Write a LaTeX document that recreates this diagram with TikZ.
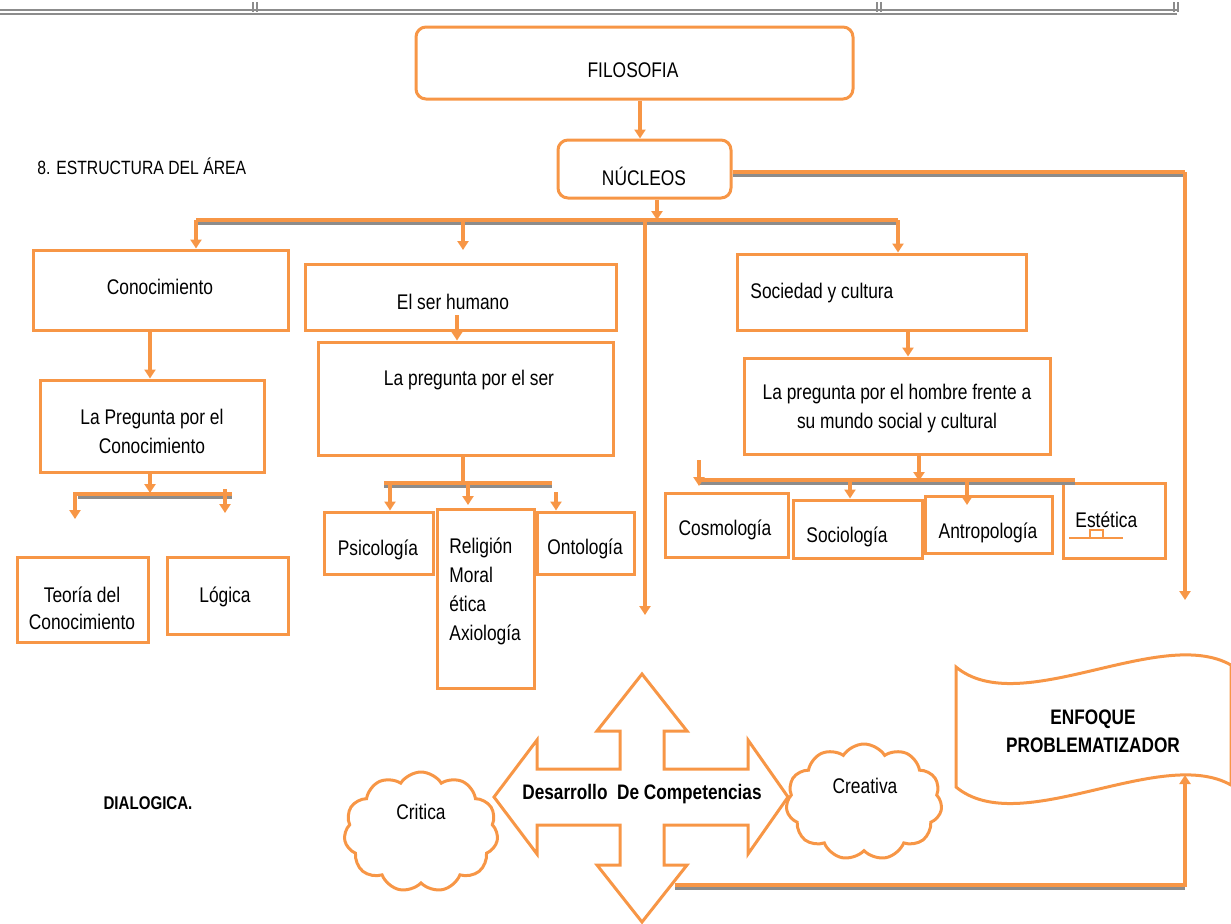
\documentclass[tikz,border=0pt]{standalone}
\usepackage{fontspec}
\setmainfont{Liberation Sans}[FakeStretch=0.82]
\usetikzlibrary{arrows.meta,shapes.symbols,fit}
\definecolor{naranja}{HTML}{F79646}
\definecolor{sombra}{HTML}{8C8C8C}
\begin{document}
\begin{tikzpicture}[x=0.5pt,y=-0.5pt,
    caja/.style={draw=naranja, line width=1.5pt, inner sep=0pt},
    redonda/.style={caja, rounded corners=5pt},
    txt/.style={font=\fontsize{10.6}{14.5}\selectfont, align=center, inner sep=0pt},
    linea/.style={draw=naranja, line width=1.8pt},
    flecha/.style={linea, -{Triangle[width=5.5pt,length=4.5pt]}},
    gris/.style={draw=sombra, line width=1.5pt},
    nube/.style={cloud, cloud puffs=11, cloud puff arc=115, draw=naranja, line width=1.5pt, inner sep=0pt}]
  \useasboundingbox (0,0) rectangle (1231,923);

  % borde de la tabla
  \draw[sombra, line width=0.6pt] (0,10) -- (1177,10) (0,14) -- (1177,14);
  \foreach \t in {253,257,877,881,1174,1178}
    \draw[sombra, line width=0.6pt] (\t,2) -- (\t,12);

  \node[txt, anchor=west, font=\fontsize{9.6}{12}\selectfont] (titulo) at (37,166) {8. ESTRUCTURA DEL ÁREA};
  \node[txt, font=\bfseries\fontsize{9.2}{12}\selectfont] (dialog) at (148,803) {DIALOGICA.};

  % cajas
  \node[redonda, fit={(416,27) (853,99)}] (filo) {};
  \node[redonda, fit={(558,140) (731,198)}] (nucl) {};
  \node[caja, fit={(33,250) (288,330)}] (conoc) {};
  \node[caja, fit={(40,380) (264,472)}] (pregc) {};
  \node[caja, fit={(17,557) (148,642)}] (teoria) {};
  \node[caja, fit={(167,557) (288,634)}] (logica) {};
  \node[caja, fit={(305,264) (616,330)}] (serh) {};
  \node[caja, fit={(318,342) (613,455)}] (pregser) {};
  \node[caja, fit={(324,512) (433,574)}] (psico) {};
  \node[caja, fit={(437,509) (534,688)}] (relig) {};
  \node[caja, fit={(537,512) (634,574)}] (onto) {};
  \node[caja, fit={(737,254) (1026,330)}] (socied) {};
  \node[caja, fit={(744,358) (1050,454)}] (preghom) {};
  \node[caja, fit={(665,493) (788,557)}] (cosmo) {};
  \node[caja, fit={(793,500) (922,558)}] (socio) {};
  \node[caja, fit={(925,496) (1052,553)}] (antro) {};
  \node[caja, fit={(1063,483) (1165,558)}] (estet) {};
  \draw[naranja, line width=1pt] (1069,538) -- (1123,538) (1090,530) rectangle (1103,538);

  \node[txt] (filo-t) at (633,70) {FILOSOFIA};
  \node[txt] (nucl-t) at (644,176) {NÚCLEOS};
  \node[txt] (conoc-t) at (160,287) {Conocimiento};
  \node[txt] (pregc-t) at (152,431) {La Pregunta por el\\Conocimiento};
  \node[txt, font=\fontsize{10.6}{13.5}\selectfont] (teoria-t) at (82,608) {Teoría del\\Conocimiento};
  \node[txt] (logica-t) at (225,597) {Lógica};
  \node[txt] (serh-t) at (453,302) {El ser humano};
  \node[txt] (pregser-t) at (469,380) {La pregunta por el ser};
  \node[txt] (psico-t) at (378,550) {Psicología};
  \node[txt, align=left, anchor=north west] (relig-t) at (449,537) {Religión\\Moral\\ética\\Axiología};
  \node[txt] (onto-t) at (585,549) {Ontología};
  \node[txt, anchor=west] (socied-t) at (750,293) {Sociedad y cultura};
  \node[txt] (preghom-t) at (897,409) {La pregunta por el hombre frente a\\su mundo social y cultural};
  \node[txt] (cosmo-t) at (725,530) {Cosmología};
  \node[txt] (socio-t) at (847,537) {Sociología};
  \node[txt] (antro-t) at (988,533) {Antropología};
  \node[txt, anchor=west] (estet-t) at (1075,520) {Estética};

  % conexiones
  \coordinate (esq) at (1185,172);
  \coordinate (finder) at (1185,600);
  \coordinate (b1) at (657,220);
  \coordinate (fincen) at (645,615);
  \coordinate (finser) at (463,250);
  \draw[flecha] (filo.south -| 640,0) -- (nucl.north -| 640,0);
  \draw[gris] (nucl.east |- 0,175.5) -- (1183,175.5);
  \draw[linea] (nucl.east |- 0,172) -- (esq);
  \draw[flecha] (esq) -- (finder);
  \draw[flecha] (nucl.south -| b1) -- (b1);
  \draw[gris] (198,223.5) -- (898,223.5);
  \draw[linea] (196,220) -- (898,220);
  \draw[flecha] (196,220) -- (conoc.north -| 196,0);
  \draw[flecha] (463,220) -- (finser);
  \draw[flecha] (898,220) -- (socied.north -| 898,0);
  \draw[flecha] (645,220) -- (fincen);

  \draw[flecha] (conoc.south -| 150,0) -- (pregc.north -| 150,0);
  \draw[flecha] (pregc.south -| 150,0) -- (150,493);
  \draw[gris] (78,497.5) -- (232,497.5);
  \draw[flecha] (232,494) -- (75,494) -- (75,519);
  \draw[flecha] (225,489) -- (225,513);

  \draw[flecha] (457,315) -- (pregser.north -| 457,0);
  \draw[linea] (pregser.south -| 463,0) -- (463,483);
  \draw[gris] (384,486.5) -- (552,486.5);
  \draw[linea] (384,483) -- (552,483);
  \draw[flecha] (390,483) -- (psico.north -| 390,0);
  \draw[flecha] (468,483) -- (468,505);
  \draw[flecha] (556,492) -- (onto.north -| 556,0);

  \draw[flecha] (socied.south -| 908,0) -- (preghom.north -| 908,0);
  \draw[flecha] (preghom.south -| 919,0) -- (919,481);
  \draw[gris] (700,483.5) -- (1075,483.5);
  \draw[linea] (700,480) -- (1075,480);
  \draw[flecha] (699,460) -- (699,486);
  \draw[flecha] (850,480) -- (socio.north -| 850,0);
  \draw[flecha] (967,480) -- (967,505);

  % flecha de cuatro puntas
  \coordinate (centro) at (642,797);
  \draw[naranja, line width=1.5pt, shift={(centro)}]
    (0,-123) -- (45,-66) -- (22,-66) -- (22,-28) -- (106,-28) -- (106,-57) -- (146,0)
    -- (106,57) -- (106,28) -- (22,28) -- (22,68) -- (45,68) -- (0,125)
    -- (-45,68) -- (-22,68) -- (-22,28) -- (-105,28) -- (-105,57) -- (-148,0)
    -- (-105,-57) -- (-105,-28) -- (-22,-28) -- (-22,-66) -- (-45,-66) -- cycle;
  \node[txt, font=\bfseries\fontsize{10.5}{13}\selectfont] (desarr) at (642,794) {Desarrollo\ \ De Competencias};

  \node[nube, minimum width=77pt, minimum height=60pt] (critica) at (421,832) {};
  \node[txt] (critica-t) at (421,812) {Critica};
  \node[nube, minimum width=78pt, minimum height=58pt] (creativa) at (864,802) {};
  \node[txt] (creativa-t) at (865,786) {Creativa};

  % enfoque
  \draw[naranja, line width=1.5pt] (956,667) .. controls (1020,720) and (1160,625) .. (1231,665)
    -- (1231,785) .. controls (1160,745) and (1020,840) .. (956,787) -- cycle;
  \node[txt, font=\bfseries\fontsize{10.5}{14}\selectfont] (enfoque-t) at (1093,731) {ENFOQUE\\PROBLEMATIZADOR};
  \coordinate (enfoque-b) at (1185,775);
  \coordinate (abajo-i) at (675,885);
  \coordinate (abajo-d) at (1185,885);
  \draw[gris] (675,888.5) -- (1185,888.5);
  \draw[flecha] (abajo-i) -- (abajo-d) -- (enfoque-b);
\end{tikzpicture}
\end{document}
